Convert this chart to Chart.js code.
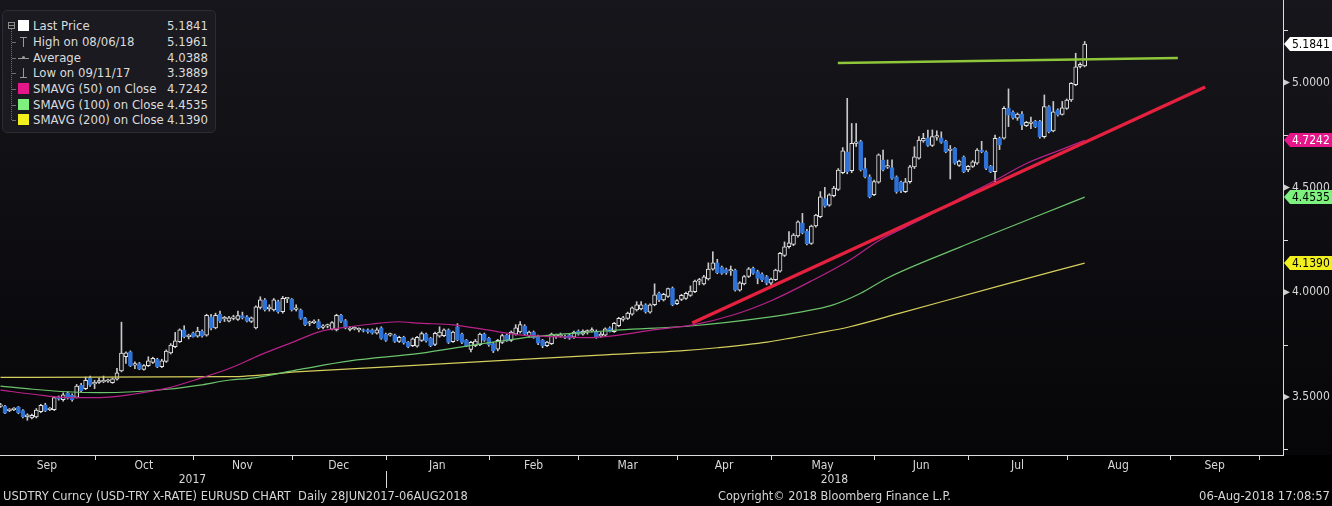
<!DOCTYPE html>
<html><head><meta charset="utf-8">
<script src="https://cdn.jsdelivr.net/npm/chart.js@4.4.1/dist/chart.umd.min.js"></script>
<style>
html,body{margin:0;padding:0;background:#000;width:1332px;height:506px;overflow:hidden;}
#wrap{position:relative;width:1332px;height:506px;}
canvas{position:absolute;left:0;top:0;}
.tx{position:absolute;font-family:"DejaVu Sans Condensed","Liberation Sans Narrow","DejaVu Sans",sans-serif;color:#d6d6d6;white-space:nowrap;line-height:14px;}
#legend{position:absolute;left:2px;top:10px;width:214px;height:123px;background:#1a1a20;border:1px solid #2c2c34;border-radius:5px;box-sizing:border-box;}
.lg{position:absolute;font-family:"DejaVu Sans Condensed","Liberation Sans Narrow","DejaVu Sans",sans-serif;font-size:13px;color:#dcdcdc;white-space:nowrap;line-height:16px;height:16px;}
.ic{position:absolute;}
</style></head>
<body><div id="wrap"><canvas id="c" width="1332" height="506"></canvas><div id="legend"></div><div id="lgrows"></div>
<div class="tx" id="f1" style="left:3px;top:489px;font-size:12px;">USDTRY Curncy (USD-TRY X-RATE) EURUSD CHART&nbsp; Daily 28JUN2017-06AUG2018</div>
<div class="tx" id="f2" style="left:718px;top:489px;font-size:12px;">Copyright© 2018 Bloomberg Finance L.P.</div>
<div class="tx" id="f3" style="right:2px;top:489px;font-size:12px;">06-Aug-2018 17:08:57</div>
</div>
<script>
// ---------- DATA ----------
const open = [
3.455,3.455,3.435,3.440,3.452,3.435,3.405,3.400,3.405,3.430,
3.462,3.440,3.440,3.500,3.487,3.517,3.508,3.498,3.556,3.540,
3.590,3.563,3.570,3.572,3.575,3.568,3.585,3.625,3.692,3.716,
3.652,3.660,3.632,3.650,3.665,3.680,3.645,3.670,3.710,3.740,
3.764,3.820,3.788,3.805,3.790,3.815,3.795,3.883,3.830,3.895,
3.873,3.862,3.875,3.870,3.888,3.882,3.860,3.830,3.927,3.963,
3.922,3.915,3.955,3.907,3.968,3.966,3.918,3.915,3.878,3.852,
3.855,3.860,3.832,3.838,3.824,3.820,3.890,3.865,3.822,3.825,
3.820,3.818,3.820,3.820,3.805,3.830,3.800,3.795,3.795,3.765,
3.785,3.762,3.745,3.742,3.770,3.800,3.780,3.751,3.790,3.792,
3.820,3.764,3.835,3.800,3.772,3.727,3.745,3.750,3.800,3.780,
3.755,3.728,3.760,3.795,3.770,3.800,3.810,3.838,3.790,3.810,
3.790,3.770,3.745,3.755,3.790,3.790,3.788,3.795,3.785,3.815,
3.800,3.810,3.815,3.815,3.790,3.795,3.830,3.812,3.840,3.870,
3.875,3.895,3.915,3.920,3.940,3.905,3.940,3.995,3.963,3.980,
4.020,3.945,3.965,3.970,3.985,4.002,4.053,4.040,4.063,4.110,
4.140,4.120,4.108,4.101,4.105,4.010,4.040,4.075,4.114,4.098,
4.087,4.075,4.043,4.060,4.100,4.175,4.217,4.228,4.268,4.330,
4.290,4.233,4.316,4.360,4.447,4.415,4.460,4.490,4.570,4.670,
4.580,4.710,4.718,4.590,4.550,4.465,4.525,4.630,4.597,4.594,
4.550,4.525,4.480,4.527,4.598,4.640,4.722,4.737,4.700,4.740,
4.737,4.720,4.676,4.686,4.605,4.645,4.583,4.600,4.615,4.678,
4.670,4.600,4.575,4.734,4.735,4.877,4.858,4.830,4.849,4.795,
4.805,4.815,4.815,4.742,4.885,4.770,4.870,4.848,4.877,4.917,
4.990,5.077,5.080];
const high = [
3.470,3.460,3.445,3.450,3.455,3.440,3.420,3.418,3.445,3.465,
3.470,3.450,3.500,3.505,3.520,3.525,3.515,3.560,3.565,3.595,
3.600,3.580,3.590,3.600,3.585,3.590,3.637,3.857,3.716,3.720,
3.668,3.665,3.655,3.692,3.690,3.685,3.680,3.725,3.755,3.808,
3.825,3.840,3.800,3.810,3.833,3.820,3.895,3.895,3.900,3.910,
3.885,3.885,3.890,3.910,3.905,3.888,3.882,3.935,3.978,3.970,
3.940,3.970,3.962,3.980,3.975,3.970,3.940,3.920,3.880,3.862,
3.868,3.870,3.845,3.848,3.860,3.895,3.895,3.870,3.835,3.835,
3.830,3.825,3.825,3.825,3.830,3.835,3.805,3.805,3.800,3.790,
3.790,3.765,3.782,3.790,3.810,3.805,3.785,3.810,3.835,3.825,
3.825,3.815,3.850,3.805,3.775,3.765,3.775,3.805,3.805,3.785,
3.760,3.775,3.800,3.800,3.815,3.845,3.860,3.845,3.815,3.815,
3.795,3.775,3.765,3.805,3.800,3.805,3.795,3.800,3.815,3.820,
3.820,3.820,3.830,3.820,3.808,3.830,3.835,3.856,3.880,3.885,
3.905,3.930,3.955,3.955,3.945,3.945,4.040,4.000,3.995,4.020,
4.025,3.965,3.990,4.000,4.030,4.058,4.066,4.080,4.140,4.193,
4.157,4.125,4.115,4.125,4.110,4.050,4.080,4.118,4.120,4.105,
4.092,4.080,4.067,4.110,4.190,4.240,4.289,4.280,4.340,4.376,
4.300,4.320,4.372,4.480,4.500,4.470,4.505,4.590,4.690,4.925,
4.805,4.805,4.725,4.640,4.560,4.535,4.660,4.678,4.631,4.631,
4.555,4.530,4.543,4.605,4.694,4.742,4.758,4.774,4.774,4.770,
4.765,4.725,4.700,4.690,4.630,4.650,4.605,4.628,4.685,4.720,
4.675,4.605,4.750,4.740,4.885,4.970,4.865,4.855,4.862,4.815,
4.835,4.820,4.820,4.941,4.890,4.910,4.875,4.910,4.922,5.000,
5.140,5.095,5.1961];
const low = [
3.450,3.420,3.430,3.435,3.420,3.400,3.389,3.395,3.400,3.425,
3.430,3.435,3.435,3.485,3.480,3.490,3.480,3.495,3.525,3.535,
3.550,3.540,3.565,3.568,3.570,3.565,3.580,3.620,3.660,3.645,
3.635,3.630,3.628,3.645,3.660,3.640,3.640,3.665,3.705,3.735,
3.760,3.782,3.777,3.785,3.785,3.785,3.790,3.820,3.825,3.855,
3.860,3.858,3.868,3.865,3.872,3.858,3.855,3.825,3.920,3.910,
3.910,3.910,3.900,3.900,3.950,3.910,3.910,3.870,3.840,3.840,
3.850,3.825,3.825,3.830,3.820,3.815,3.855,3.825,3.815,3.820,
3.810,3.810,3.805,3.800,3.800,3.775,3.765,3.790,3.760,3.760,
3.752,3.735,3.740,3.738,3.765,3.762,3.740,3.745,3.785,3.788,
3.755,3.760,3.768,3.755,3.740,3.715,3.740,3.745,3.765,3.742,
3.712,3.720,3.755,3.765,3.765,3.795,3.805,3.795,3.785,3.780,
3.750,3.735,3.740,3.750,3.780,3.785,3.778,3.775,3.780,3.795,
3.795,3.800,3.810,3.780,3.785,3.790,3.810,3.808,3.835,3.862,
3.870,3.890,3.910,3.915,3.900,3.900,3.935,3.955,3.958,3.975,
3.935,3.940,3.960,3.965,3.980,3.998,4.035,4.035,4.058,4.105,
4.088,4.085,4.085,4.080,4.005,4.005,4.035,4.070,4.085,4.040,
4.050,4.035,4.035,4.055,4.095,4.170,4.210,4.222,4.262,4.278,
4.225,4.228,4.310,4.355,4.405,4.410,4.455,4.485,4.565,4.565,
4.570,4.695,4.578,4.545,4.450,4.460,4.520,4.578,4.590,4.538,
4.472,4.475,4.475,4.520,4.590,4.635,4.715,4.695,4.695,4.725,
4.710,4.665,4.540,4.610,4.600,4.570,4.575,4.595,4.610,4.665,
4.585,4.570,4.527,4.680,4.730,4.790,4.825,4.820,4.775,4.790,
4.780,4.785,4.735,4.735,4.760,4.765,4.840,4.845,4.872,4.910,
4.985,5.070,5.075];
const close = [
3.462,3.423,3.438,3.442,3.425,3.405,3.415,3.412,3.438,3.460,
3.433,3.443,3.497,3.490,3.510,3.494,3.487,3.552,3.530,3.580,
3.557,3.566,3.578,3.580,3.578,3.587,3.615,3.710,3.711,3.650,
3.655,3.633,3.650,3.673,3.685,3.645,3.673,3.719,3.748,3.768,
3.820,3.788,3.790,3.788,3.815,3.790,3.890,3.828,3.890,3.862,
3.876,3.878,3.878,3.888,3.878,3.862,3.878,3.930,3.963,3.915,
3.925,3.963,3.907,3.971,3.970,3.915,3.920,3.875,3.845,3.855,
3.858,3.830,3.840,3.840,3.855,3.890,3.860,3.830,3.825,3.827,
3.822,3.815,3.810,3.805,3.820,3.780,3.770,3.797,3.765,3.785,
3.758,3.740,3.778,3.785,3.803,3.768,3.745,3.804,3.810,3.820,
3.760,3.810,3.772,3.760,3.745,3.761,3.767,3.800,3.770,3.748,
3.720,3.770,3.793,3.768,3.810,3.830,3.845,3.800,3.810,3.783,
3.757,3.745,3.762,3.800,3.793,3.792,3.782,3.780,3.810,3.800,
3.815,3.812,3.818,3.787,3.800,3.825,3.812,3.852,3.875,3.872,
3.900,3.926,3.940,3.940,3.907,3.940,3.987,3.963,3.990,4.017,
3.940,3.960,3.985,3.995,4.005,4.053,4.055,4.073,4.110,4.140,
4.093,4.090,4.093,4.103,4.010,4.045,4.074,4.112,4.090,4.066,
4.058,4.043,4.062,4.106,4.186,4.217,4.235,4.273,4.336,4.283,
4.230,4.315,4.368,4.455,4.410,4.465,4.497,4.583,4.675,4.575,
4.710,4.713,4.583,4.550,4.455,4.528,4.655,4.583,4.600,4.543,
4.480,4.483,4.527,4.598,4.646,4.726,4.734,4.700,4.742,4.742,
4.715,4.670,4.678,4.615,4.626,4.575,4.600,4.622,4.678,4.670,
4.591,4.575,4.734,4.703,4.877,4.845,4.833,4.850,4.797,4.810,
4.807,4.790,4.742,4.885,4.766,4.861,4.846,4.880,4.917,4.997,
5.075,5.087,5.1841];

// moving averages, sampled at trading-day index positions
const sma50Idx = [0,7.3,14.8,22.2,29.6,37.2,44.5,51.2,57.9,65.3,71.3,76.5,82.5,88.7,93.6,101,108.6,116,123.3,131,138.3,145.6,154.6,163.5,172.4,181.4,189.6,196.3,205.2,213.5,221.5,229.1,236.5,242];
const sma50Val = [3.533,3.513,3.497,3.497,3.513,3.542,3.589,3.637,3.700,3.762,3.812,3.831,3.847,3.859,3.852,3.844,3.820,3.796,3.788,3.783,3.796,3.820,3.844,3.891,3.963,4.058,4.154,4.249,4.344,4.440,4.527,4.615,4.678,4.7242];
const sma100Idx = [0,7.3,14.8,22.2,29.6,37.2,44.5,51.2,55.7,66.9,78,93.6,104.8,116,123.3,131,138.3,154.6,171.1,178.5,185.5,192,198,214.2,232,242];
const sma100Val = [3.552,3.537,3.525,3.521,3.525,3.537,3.557,3.581,3.589,3.632,3.672,3.708,3.745,3.780,3.796,3.809,3.820,3.840,3.880,3.905,3.937,3.995,4.068,4.215,4.368,4.4535];
const sma200Idx = [0,51.2,66.9,100.3,133.8,151.7,160,171.1,182.3,189.6,200.8,223,242];
const sma200Val = [3.594,3.597,3.621,3.660,3.700,3.720,3.735,3.762,3.804,3.835,3.900,4.030,4.139];

// hand-drawn trend lines (start/end index, start/end value)
const resistIdx = [186.9, 262.8];
const resistVal = [5.0935, 5.117];
const supportIdx = [154.4, 268.9];
const supportVal = [3.853, 4.979];

// axes
const monthLabels = ['Sep','Oct','Nov','Dec','Jan','Feb','Mar','Apr','May','Jun','Jul','Aug','Sep'];
const monthStarts = [-0.3,21,43,65,86,109,129,151,172,195,216,238,261,281];
const yearLabels = ['2017','2018'];
const yearStarts = [-0.3,86];
const yMajorTicks = [3.5,4.0,4.5,5.0];
const yMinorTicks = [3.25,3.75,4.25,4.75,5.25];

// legend
const legendLabels = ['Last Price','High on 08/06/18','Average','Low on 09/11/17','SMAVG (50) on Close','SMAVG (100) on Close','SMAVG (200) on Close'];
const legendValues = ['5.1841','5.1961','4.0388','3.3889','4.7242','4.4535','4.1390'];

// ---------- RENDER ----------
const FONT = '"DejaVu Sans Condensed","Liberation Sans Narrow","DejaVu Sans",sans-serif';
Chart.defaults.font.family = FONT;
const X_MIN = -0.11, X_MAX = 286.27, Y_MIN = 3.2233, Y_MAX = 5.394;
const C_MAG = '#e5168a', C_GRN = '#7df07d', C_YEL = '#f2ef1e';
const BLUE = '#2f72d6', HOLLOW = '#141418', WHITE = '#e4e4e4';

const idx = close.map((_, i) => i);
const isUp = i => close[i] >= open[i];
const pts = (xs, ys) => xs.map((v, k) => ({x: v, y: ys[k]}));

const bgPlugin = {
  id: 'bg',
  beforeDraw(chart) {
    const {ctx, chartArea: a} = chart;
    ctx.save();
    ctx.fillStyle = '#000';
    ctx.fillRect(0, 0, chart.width, chart.height);
    const g = ctx.createLinearGradient(0, 0, 0, a.bottom);
    g.addColorStop(0, '#16161c');
    g.addColorStop(1, '#060608');
    ctx.fillStyle = g;
    ctx.fillRect(0, 0, chart.width, a.bottom);
    ctx.restore();
  },
  afterDraw(chart) {
    const {ctx, chartArea: a, scales: {x, y}} = chart;
    ctx.save();
    ctx.strokeStyle = '#dcdcdc';
    ctx.lineWidth = 1;
    ctx.beginPath();
    ctx.moveTo(0, a.bottom + 0.5); ctx.lineTo(a.right + 1, a.bottom + 0.5);
    ctx.moveTo(a.right + 0.5, 0); ctx.lineTo(a.right + 0.5, a.bottom + 1);
    monthStarts.slice(1).forEach(m => {
      const px = Math.round(x.getPixelForValue(m)) + 0.5;
      ctx.moveTo(px, a.bottom); ctx.lineTo(px, a.bottom + 5);
    });
    yMinorTicks.forEach(v => {
      const py = Math.round(y.getPixelForValue(v)) + 0.5;
      ctx.moveTo(a.right, py); ctx.lineTo(a.right + 5, py);
    });
    const sx = Math.round(x.getPixelForValue(yearStarts[1])) + 0.5;
    ctx.moveTo(sx, a.bottom + 16); ctx.lineTo(sx, a.bottom + 33);
    ctx.stroke();
    ctx.fillStyle = '#cfcfcf';
    yMajorTicks.forEach(v => {
      const py = y.getPixelForValue(v);
      ctx.beginPath();
      ctx.moveTo(a.right + 1, py - 3); ctx.lineTo(a.right + 7, py); ctx.lineTo(a.right + 1, py + 3);
      ctx.closePath(); ctx.fill();
    });
    ctx.font = '12px ' + FONT;
    ctx.textAlign = 'center'; ctx.textBaseline = 'middle';
    ctx.fillStyle = '#d8d8d8';
    yearLabels.forEach((t, k) => {
      const x0 = x.getPixelForValue(yearStarts[k]);
      const x1 = k + 1 < yearStarts.length ? x.getPixelForValue(yearStarts[k + 1]) : a.right;
      ctx.fillText(t, (x0 + x1) / 2, a.bottom + 25);
    });
    const tags = [
      {v: close[close.length - 1], bg: '#ffffff', fg: '#000000'},
      {v: sma50Val[sma50Val.length - 1], bg: C_MAG, fg: '#ffffff'},
      {v: sma100Val[sma100Val.length - 1], bg: C_GRN, fg: '#000000'},
      {v: sma200Val[sma200Val.length - 1], bg: C_YEL, fg: '#000000'}
    ];
    ctx.textAlign = 'left';
    tags.forEach(t => {
      const py = Math.round(y.getPixelForValue(t.v));
      ctx.beginPath();
      ctx.moveTo(a.right + 1, py);
      ctx.lineTo(a.right + 7, py - 7);
      ctx.lineTo(chart.width, py - 7);
      ctx.lineTo(chart.width, py + 7);
      ctx.lineTo(a.right + 7, py + 7);
      ctx.closePath();
      ctx.fillStyle = t.bg; ctx.fill();
      ctx.fillStyle = t.fg;
      ctx.fillText(t.v.toFixed(4), a.right + 9, py + 0.5);
    });
    ctx.restore();
  }
};

new Chart(document.getElementById('c'), {
  type: 'bar',
  data: {
    datasets: [
      {type: 'line', label: 'resist', data: pts(resistIdx, resistVal), borderColor: '#8fc63a', borderWidth: 2.5, pointRadius: 0, order: 0},
      {type: 'line', label: 'support', data: pts(supportIdx, supportVal), borderColor: '#e5213f', borderWidth: 3.5, pointRadius: 0, order: 0},
      {type: 'line', label: 'SMA50', data: pts(sma50Idx, sma50Val), borderColor: '#b8228a', borderWidth: 1.2, pointRadius: 0, cubicInterpolationMode: 'monotone', order: 1},
      {type: 'line', label: 'SMA100', data: pts(sma100Idx, sma100Val), borderColor: '#6cc46c', borderWidth: 1.2, pointRadius: 0, cubicInterpolationMode: 'monotone', order: 1},
      {type: 'line', label: 'SMA200', data: pts(sma200Idx, sma200Val), borderColor: '#d6cf5c', borderWidth: 1.2, pointRadius: 0, cubicInterpolationMode: 'monotone', order: 1},
      {label: 'body', data: idx.map(i => ({x: i, y: [Math.min(open[i], close[i]), Math.max(open[i], close[i])]})),
        barThickness: 4, grouped: false, minBarLength: 1.5, borderSkipped: false, borderWidth: 1,
        backgroundColor: c => isUp(c.dataIndex) ? HOLLOW : BLUE,
        borderColor: c => isUp(c.dataIndex) ? WHITE : BLUE, order: 2},
      {label: 'wick', data: idx.map(i => ({x: i, y: [low[i], high[i]]})),
        barThickness: 1, grouped: false, backgroundColor: '#c8c8c8', borderWidth: 0, order: 3}
    ]
  },
  options: {
    responsive: false, animation: false, devicePixelRatio: 1,
    layout: {padding: 0},
    plugins: {legend: {display: false}, tooltip: {enabled: false}},
    scales: {
      x: {
        type: 'linear', min: X_MIN, max: X_MAX, offset: false,
        grid: {display: false, drawTicks: false, offset: false}, border: {display: false},
        afterBuildTicks: s => { s.ticks = monthLabels.map((_, k) => ({value: (monthStarts[k] + monthStarts[k + 1]) / 2})); },
        ticks: {autoSkip: false, maxRotation: 0, padding: 4, color: '#d8d8d8', font: {size: 12}, callback: (v, k) => monthLabels[k]},
        afterFit: s => { s.height = 51; s.paddingLeft = 0; s.paddingRight = 0; }
      },
      y: {
        type: 'linear', position: 'right', min: Y_MIN, max: Y_MAX,
        grid: {display: false, drawTicks: false}, border: {display: false},
        afterBuildTicks: s => { s.ticks = yMajorTicks.map(v => ({value: v})); },
        ticks: {padding: 9, color: '#d8d8d8', font: {size: 12}, callback: v => Number(v).toFixed(4)},
        afterFit: s => { s.width = 49; s.paddingTop = 0; s.paddingBottom = 0; }
      }
    }
  },
  plugins: [bgPlugin]
});

// ---------- legend box ----------
(function () {
  const holder = document.getElementById('lgrows');
  const rowY = [26, 42, 58, 73, 89, 105, 120];
  const add = (html) => { const d = document.createElement('div'); d.innerHTML = html; holder.appendChild(d.firstChild); };
  add('<div class="ic" style="left:11px;top:29px;width:0;height:91px;border-left:1px dotted #6e6e6e;"></div>');
  add('<div class="ic" style="left:8px;top:22px;width:5px;height:5px;border:1px solid #8a8a8a;"></div>');
  add('<div class="ic" style="left:9px;top:25px;width:5px;height:1px;background:#8a8a8a;"></div>');
  const sqColors = ['#ffffff', null, null, null, C_MAG, C_GRN, C_YEL];
  legendLabels.forEach((lab, k) => {
    const y = rowY[k];
    if (k > 0) add(`<div class="ic" style="left:12px;top:${y}px;width:4px;height:1px;background:#6e6e6e;"></div>`);
    if (sqColors[k]) {
      add(`<div class="ic" style="left:18px;top:${y - 6}px;width:11px;height:11px;background:${sqColors[k]};"></div>`);
    } else if (k === 1) {
      add(`<div class="ic" style="left:20px;top:${y - 5}px;width:7px;height:1px;background:#9a9a9a;"></div>`);
      add(`<div class="ic" style="left:23px;top:${y - 5}px;width:1px;height:10px;background:#9a9a9a;"></div>`);
    } else if (k === 2) {
      add(`<div class="ic" style="left:18px;top:${y}px;width:11px;height:1px;background:#9a9a9a;"></div>`);
      add(`<div class="ic" style="left:22px;top:${y - 2}px;width:3px;height:3px;background:#9a9a9a;border-radius:2px;"></div>`);
    } else if (k === 3) {
      add(`<div class="ic" style="left:20px;top:${y + 4}px;width:7px;height:1px;background:#9a9a9a;"></div>`);
      add(`<div class="ic" style="left:23px;top:${y - 5}px;width:1px;height:10px;background:#9a9a9a;"></div>`);
    }
    add(`<div class="lg" style="left:33px;top:${y - 8}px;">${lab}</div>`);
    add(`<div class="lg" style="left:${208 - 60}px;width:60px;text-align:right;top:${y - 8}px;">${legendValues[k]}</div>`);
  });
})();

// footer widths matched to the reference
function fitText(id, w) {
  const el = document.getElementById(id);
  const cur = el.getBoundingClientRect().width;
  const fs = parseFloat(getComputedStyle(el).fontSize);
  if (cur > 0) el.style.fontSize = (fs * w / cur).toFixed(2) + 'px';
}
fitText('f1', 465); fitText('f2', 233); fitText('f3', 131);
</script></body></html>
